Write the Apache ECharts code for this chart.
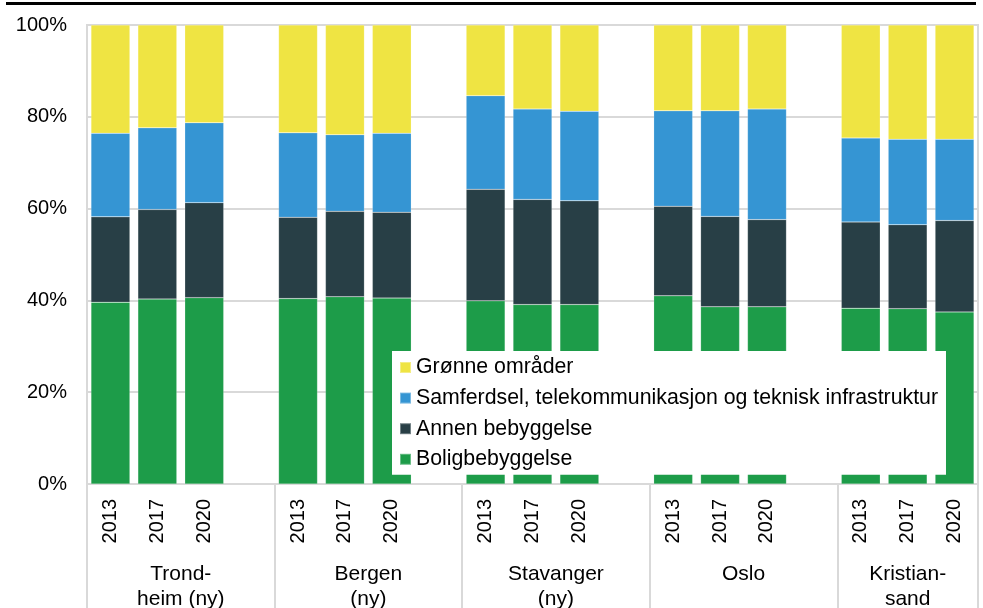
<!DOCTYPE html>
<html>
<head>
<meta charset="utf-8">
<script src="https://cdn.jsdelivr.net/npm/echarts@6/dist/echarts.min.js"></script>
<style>
  body { margin: 0; background: #fff; }
  #rule { position: absolute; left: 6px; top: 2px; width: 970px; height: 3px; background: #000; }
  #chart { width: 983px; height: 608px; }
</style>
</head>
<body>
<div id="rule"></div>
<div id="chart"></div>
<script>
var years = ['2013', '2017', '2020']
var cities = ['Trond-\nheim (ny)', 'Bergen\n(ny)', 'Stavanger\n(ny)', 'Oslo', 'Kristian-\nsand']
var seriesNames = ['Boligbebyggelse', 'Annen bebyggelse', 'Samferdsel, telekommunikasjon og teknisk infrastruktur', 'Grønne områder']
// share in %, per city 2013, 2017, 2020
var bolig = [39.6, 40.3, 40.6, 40.4, 40.8, 40.5, 39.9, 39.1, 39.1, 41.0, 38.6, 38.6, 38.3, 38.2, 37.5]
var annen = [18.6, 19.5, 20.7, 17.7, 18.6, 18.7, 24.3, 22.9, 22.6, 19.5, 19.7, 19.0, 18.8, 18.3, 19.9]
var samferdsel = [18.2, 17.8, 17.4, 18.4, 16.7, 17.2, 20.4, 19.7, 19.5, 20.8, 23.0, 24.1, 18.3, 18.6, 17.7]
var gronne = [23.6, 22.4, 21.3, 23.5, 23.9, 23.6, 15.4, 18.3, 18.8, 18.7, 18.7, 18.3, 24.6, 24.9, 24.9]
var colors = ['#1d9c49', '#283f46', '#3595d3', '#efe443']

// one empty slot between cities
var categories = []
var groupStarts = []
var cityCenters = {}
cities.forEach(function (c, i) {
  groupStarts.push(categories.length)
  years.forEach(function (y) { categories.push(y) })
  if (i < cities.length - 1) categories.push('')
})
cities.forEach(function (c, i) {
  var end = i < cities.length - 1 ? groupStarts[i + 1] : categories.length
  cityCenters[(groupStarts[i] + end) / 2] = c
})

function spread(values) {
  var out = []
  var k = 0
  categories.forEach(function (c) {
    out.push(c === '' ? null : values[k++])
  })
  return out
}

var textColor = '#000'
var fontFamily = '"Liberation Sans", Arial, sans-serif'

var chart = echarts.init(document.getElementById('chart'))
chart.setOption({
  animation: false,
  color: colors,
  textStyle: { fontFamily: fontFamily },
  grid: {
    left: 87, right: 5, top: 25, bottom: 124,
    outerBoundsMode: 'none',
    show: true, borderColor: '#d9d9d9', borderWidth: 2
  },
  legend: {
    data: seriesNames.slice().reverse(),
    orient: 'vertical',
    left: 392,
    top: 351,
    padding: [6, 8, 5, 7],
    backgroundColor: '#fff',
    icon: 'rect',
    itemWidth: 11,
    itemHeight: 11,
    itemGap: 9.6,
    textStyle: { fontSize: 21.3, color: textColor, fontFamily: fontFamily }
  },
  xAxis: [
    {
      type: 'category',
      data: categories,
      axisLine: { lineStyle: { color: '#d9d9d9', width: 2 } },
      axisTick: {
        show: true,
        length: 124,
        interval: function (index) { return groupStarts.indexOf(index) >= 0 },
        lineStyle: { color: '#d9d9d9', width: 2 }
      },
      axisLabel: {
        interval: 0,
        rotate: 90,
        margin: 15,
        fontSize: 20,
        color: textColor
      }
    },
    {
      type: 'value',
      position: 'bottom',
      min: 0,
      max: categories.length,
      interval: 0.5,
      axisLine: { show: false },
      axisTick: { show: false },
      splitLine: { show: false },
      axisLabel: {
        margin: 78,
        fontSize: 21,
        lineHeight: 25,
        color: textColor,
        formatter: function (v) { return cityCenters[v] || '' }
      }
    }
  ],
  yAxis: {
    type: 'value',
    min: 0,
    max: 100,
    interval: 20,
    axisLine: { show: false },
    axisTick: { show: false },
    splitLine: { lineStyle: { color: '#d9d9d9', width: 2 } },
    axisLabel: { formatter: '{value}%', fontSize: 20, margin: 20, color: textColor }
  },
  series: [bolig, annen, samferdsel, gronne].map(function (vals, i) {
    return {
      name: seriesNames[i],
      type: 'bar',
      stack: 'total',
      barCategoryGap: '17%',
      itemStyle: { borderColor: 'rgba(255,255,255,0.35)', borderWidth: 0.5 },
      data: spread(vals)
    }
  })
})
</script>
</body>
</html>
